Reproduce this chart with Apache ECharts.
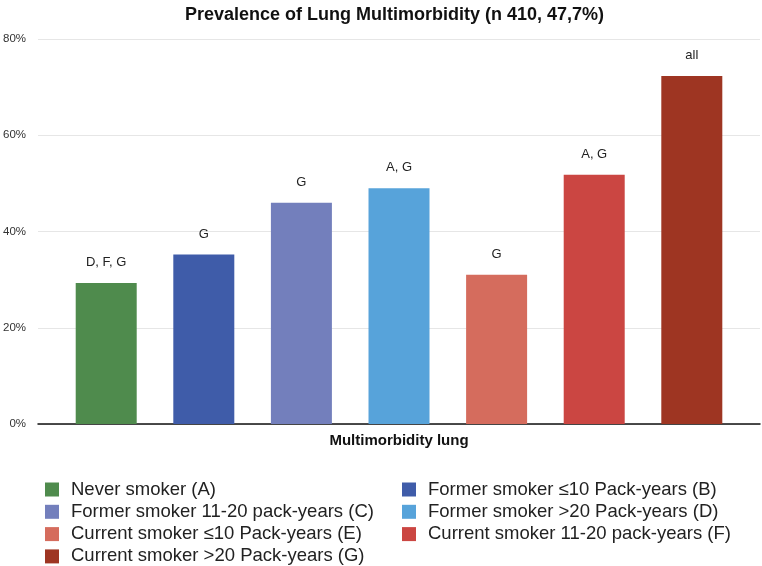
<!DOCTYPE html>
<html>
<head>
<meta charset="utf-8">
<script src="https://cdn.jsdelivr.net/npm/echarts@6/dist/echarts.min.js"></script>
<style>
  html, body { margin: 0; padding: 0; background: #fff; }
  #main { width: 762px; height: 566px; }
</style>
</head>
<body>
<div id="main"></div>
<script>
// groups, one bar each
let groupNames = [
    'Never smoker (A)',
    'Former smoker \u226410 Pack-years (B)',
    'Former smoker 11-20 pack-years (C)',
    'Former smoker >20 Pack-years (D)',
    'Current smoker \u226410 Pack-years (E)',
    'Current smoker 11-20 pack-years (F)',
    'Current smoker >20 Pack-years (G)'
];
let prevalence = [29.3, 35.2, 46.0, 49.0, 31.0, 51.8, 72.3];
let signif = ['D, F, G', 'G', 'G', 'A, G', 'G', 'A, G', 'all'];
let colors = ['#4f8b4d', '#3f5ca9', '#737fbc', '#57a3da', '#d56c5d', '#cb4642', '#9e3522'];
let category = ['Multimorbidity lung'];
let yTicks = [0, 20, 40, 60, 80];

let myChart = echarts.init(document.getElementById('main'));

let series = [];
for (let i = 0; i < groupNames.length; i++) {
    series.push({
        name: groupNames[i],
        type: 'bar',
        data: [prevalence[i]],
        barWidth: 61,
        barGap: '60%',
        itemStyle: { color: colors[i] },
        label: {
            show: true,
            position: 'top',
            distance: 14,
            formatter: signif[i],
            color: '#222',
            fontSize: 13,
            fontFamily: 'Liberation Sans'
        }
    });
}

// legend text, a bit of room after the square
let legendText = { fontSize: 18.5, lineHeight: 18, color: '#222', fontFamily: 'Liberation Sans', padding: [0, 0, 0, 7] };

let option = {
    animation: false,
    textStyle: { fontFamily: 'Liberation Sans' },
    title: {
        text: 'Prevalence of Lung Multimorbidity (n 410, 47,7%)',
        left: 180,
        top: 1,
        textStyle: { fontSize: 18, fontWeight: 'bold', color: '#111' }
    },
    legend: [
        {
            orient: 'vertical',
            left: 40,
            top: 475,
            height: 90,
            itemWidth: 14,
            itemHeight: 14,
            itemGap: 3.3,
            icon: 'rect',
            data: [groupNames[0], groupNames[2], groupNames[4], groupNames[6]],
            textStyle: legendText
        },
        {
            orient: 'vertical',
            left: 397,
            top: 475,
            height: 90,
            itemWidth: 14,
            itemHeight: 14,
            itemGap: 3.3,
            icon: 'rect',
            data: [groupNames[1], groupNames[3], groupNames[5]],
            textStyle: legendText
        }
    ],
    grid: { left: 37, right: 2, top: 39, bottom: 142 },
    xAxis: {
        type: 'category',
        data: category,
        axisTick: { show: false },
        axisLine: { lineStyle: { color: '#111', width: 1.5 } },
        axisLabel: { fontSize: 15, fontWeight: 'bold', color: '#111', margin: 9 }
    },
    yAxis: {
        type: 'value',
        min: yTicks[0],
        max: yTicks[yTicks.length - 1],
        interval: 20,
        axisLabel: { formatter: '{value}%', fontSize: 11.5, color: '#333', margin: 12 },
        splitLine: { lineStyle: { color: '#e6e6e6' } },
        axisLine: { show: false },
        axisTick: { show: false }
    },
    series: series
};

myChart.setOption(option);
</script>
</body>
</html>
